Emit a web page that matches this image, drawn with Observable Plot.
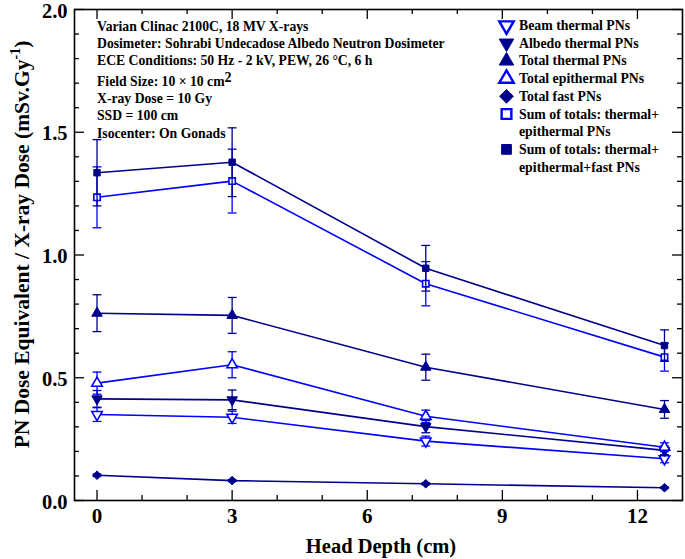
<!DOCTYPE html>
<html><head><meta charset="utf-8">
<script src="https://cdn.jsdelivr.net/npm/d3@7"></script>
<script src="https://cdn.jsdelivr.net/npm/@observablehq/plot@0.6"></script>
<style>body{margin:0;background:#fff} #chart svg{display:block}</style>
</head><body><div id="chart"></div>
<script>
// ---------- data ----------
const depth = [0, 3, 7.3, 12.6];
const beamThermal      = [0.350, 0.339, 0.242, 0.170];
const beamThermalErr   = [0.028, 0.025, 0.020, 0.016];
const albedoThermal    = [0.414, 0.410, 0.301, 0.204];
const albedoThermalErr = [0.034, 0.040, 0.025, 0.018];
const totalThermal     = [0.763, 0.754, 0.543, 0.371];
const totalThermalErr  = [0.075, 0.073, 0.053, 0.036];
const totalEpithermal  = [0.478, 0.553, 0.343, 0.217];
const totalEpithermalErr = [0.045, 0.053, 0.025, 0.018];
const totalFast        = [0.103, 0.081, 0.068, 0.052];
const totalFastErr     = [0.005, 0.004, 0.004, 0.003];
const sumThermalEpi    = [1.235, 1.301, 0.883, 0.584];
const sumThermalEpiErr = [0.124, 0.130, 0.090, 0.057];
const sumAll           = [1.335, 1.378, 0.946, 0.631];
const sumAllErr        = [0.135, 0.140, 0.093, 0.064];

const seriesNames = [
  ["Beam thermal PNs"],
  ["Albedo thermal PNs"],
  ["Total thermal PNs"],
  ["Total epithermal PNs"],
  ["Total fast PNs"],
  ["Sum of totals: thermal+", "epithermal PNs"],
  ["Sum of totals: thermal+", "epithermal+fast PNs"]
];
const xMajorTicks = [0, 3, 6, 9, 12];
const xMinorTicks = [1, 2, 4, 5, 7, 8, 10, 11];
const yMajorTicks = [0, 0.5, 1.0, 1.5, 2.0];
const yMinorTicks = [0.1,0.2,0.3,0.4,0.6,0.7,0.8,0.9,1.1,1.2,1.3,1.4,1.6,1.7,1.8,1.9];
const annotationLines = [
  "Varian Clinac 2100C, 18 MV X-rays",
  "Dosimeter: Sohrabi Undecadose Albedo Neutron Dosimeter",
  "ECE Conditions: 50 Hz - 2 kV, PEW, 26 °C, 6 h",
  "Field Size: 10 × 10 cm|2",
  "X-ray Dose = 10 Gy",
  "SSD = 100 cm",
  "Isocenter: On Gonads"
];
const xLabel = "Head Depth (cm)";
const yLabel = "PN Dose Equivalent / X-ray Dose (mSv.Gy";
const yLabelSup = "-1";

// ---------- styling ----------
const NAVY = "#00008B", BLUE = "#0000FF";
const sqrt3 = Math.sqrt(3);
const triDown = {draw(ctx, size){ const y = -Math.sqrt(size/(sqrt3*3)); ctx.moveTo(0,-y*2); ctx.lineTo(-sqrt3*y, y); ctx.lineTo(sqrt3*y, y); ctx.closePath(); }};
const cap = {draw(ctx, size){ const w = Math.sqrt(size); ctx.moveTo(-w/2,0); ctx.lineTo(w/2,0); }};

const seriesDefs = [
  {values: beamThermal, errs: beamThermalErr, symbol: triDown, color: BLUE, open: true},
  {values: albedoThermal, errs: albedoThermalErr, symbol: triDown, color: NAVY, open: false},
  {values: totalThermal, errs: totalThermalErr, symbol: "triangle", color: NAVY, open: false},
  {values: totalEpithermal, errs: totalEpithermalErr, symbol: "triangle", color: BLUE, open: true},
  {values: totalFast, errs: totalFastErr, symbol: "diamond2", color: NAVY, open: false},
  {values: sumThermalEpi, errs: sumThermalEpiErr, symbol: "square", color: BLUE, open: true},
  {values: sumAll, errs: sumAllErr, symbol: "square", color: NAVY, open: false}
].map((s, i) => ({...s, name: seriesNames[i]}));

const W = 685, H = 559, mL = 74, mR = 3, mT = 9, mB = 59;
const innerW = W - mL - mR, innerH = H - mT - mB;

const marks = [];
const tickStyle = {stroke: "black", strokeWidth: 1.3};
marks.push(Plot.tickX(xMajorTicks, {x: d => d, insetTop: innerH - 10, ...tickStyle}));
marks.push(Plot.tickX(xMajorTicks, {x: d => d, insetBottom: innerH - 10, ...tickStyle}));
marks.push(Plot.tickX(xMinorTicks, {x: d => d, insetTop: innerH - 5, ...tickStyle}));
marks.push(Plot.tickX(xMinorTicks, {x: d => d, insetBottom: innerH - 5, ...tickStyle}));
marks.push(Plot.tickY(yMajorTicks, {y: d => d, insetRight: innerW - 10, ...tickStyle}));
marks.push(Plot.tickY(yMajorTicks, {y: d => d, insetLeft: innerW - 10, ...tickStyle}));
marks.push(Plot.tickY(yMinorTicks, {y: d => d, insetRight: innerW - 5, ...tickStyle}));
marks.push(Plot.tickY(yMinorTicks, {y: d => d, insetLeft: innerW - 5, ...tickStyle}));

const rowsOf = s => depth.map((d, i) => ({x: d, y: s.values[i], lo: s.values[i] - s.errs[i], hi: s.values[i] + s.errs[i]}));
for (const s of seriesDefs) {
  marks.push(Plot.line(rowsOf(s), {x: "x", y: "y", stroke: s.color, strokeWidth: 1.6}));
}
for (const s of seriesDefs) {
  const rows = rowsOf(s);
  marks.push(Plot.ruleX(rows, {x: "x", y1: "lo", y2: "hi", stroke: s.color, strokeWidth: 1.3}));
  marks.push(Plot.dot(rows, {x: "x", y: "hi", symbol: cap, r: 5, stroke: s.color, strokeWidth: 1.3, fill: "none"}));
  marks.push(Plot.dot(rows, {x: "x", y: "lo", symbol: cap, r: 5, stroke: s.color, strokeWidth: 1.3, fill: "none"}));
  marks.push(Plot.dot(rows, {x: "x", y: "y", symbol: s.symbol, r: s.symbol === "square" ? 3.6 : 3.9,
    fill: s.open ? "white" : s.color, stroke: s.color, strokeWidth: s.open ? 1.6 : 1}));
}
marks.push(Plot.frame({stroke: "black", strokeWidth: 1.6}));
marks.push(Plot.axisX({ticks: xMajorTicks, tickSize: 0, tickPadding: 8, fontSize: 21, label: null, tickFormat: d => String(d)}));
marks.push(Plot.axisY({ticks: yMajorTicks, tickSize: 0, tickPadding: 7, fontSize: 20.5, dy: 1.5, label: null, tickFormat: d3.format(".1f")}));

const chart = Plot.plot({
  width: W, height: H,
  marginLeft: mL, marginRight: mR, marginTop: mT, marginBottom: mB,
  x: {domain: [-0.5, 13], axis: null},
  y: {domain: [0, 2], axis: null},
  style: {fontFamily: "'Liberation Serif', 'Times New Roman', serif", fontWeight: "bold", color: "black", background: "white", overflow: "visible"},
  marks
});
document.getElementById("chart").appendChild(chart);

// ---------- text overlays ----------
const svg = d3.select(chart);
const font = "'Liberation Serif', 'Times New Roman', serif";

svg.append("text").attr("x", mL + innerW / 2 + 3).attr("y", 553)
  .attr("text-anchor", "middle").attr("font-family", font).attr("font-weight", "bold")
  .attr("font-size", 20.5).attr("fill", "black").text(xLabel);

const yl = svg.append("text").attr("transform", `translate(29,${mT + innerH / 2 - 10}) rotate(-90)`)
  .attr("text-anchor", "middle").attr("font-family", font).attr("font-weight", "bold")
  .attr("font-size", 21.5).attr("fill", "black");
yl.append("tspan").text(yLabel);
yl.append("tspan").attr("dy", -9).attr("font-size", 14).text(yLabelSup);
yl.append("tspan").attr("dy", 9).text(")");

const ann = svg.append("g").attr("font-family", font).attr("font-weight", "bold").attr("font-size", 13.7)
  .attr("fill", "black").attr("text-anchor", "start");
let ay = 30.7;
annotationLines.forEach((line, i) => {
  if (i === 3) ay += 3;
  const t = ann.append("text").attr("x", 97).attr("y", ay);
  const [main, sup] = line.split("|");
  t.append("tspan").text(main);
  if (sup) t.append("tspan").attr("dy", -4).attr("font-size", 14).text(sup);
  ay += 17.3;
});

const leg = svg.append("g").attr("font-family", font).attr("font-weight", "bold").attr("font-size", 13.8)
  .attr("fill", "black").attr("text-anchor", "start");
let ly = 30;
seriesDefs.forEach(s => {
  const symType = s.symbol === triDown ? triDown : s.symbol === "triangle" ? d3.symbolTriangle : s.symbol === "diamond2" ? d3.symbolDiamond2 : d3.symbolSquare;
  const size = s.symbol === "square" ? 95 : s.symbol === "diamond2" ? 120 : 90;
  leg.append("path").attr("d", d3.symbol(symType, size)())
    .attr("transform", `translate(506.5,${ly - 4.5})`)
    .attr("fill", s.open ? "white" : s.color).attr("stroke", s.color).attr("stroke-width", s.open ? 2.4 : 1);
  s.name.forEach(ln => {
    leg.append("text").attr("x", 519).attr("y", ly).text(ln);
    ly += 17.7;
  });
});
</script>
</body></html>
